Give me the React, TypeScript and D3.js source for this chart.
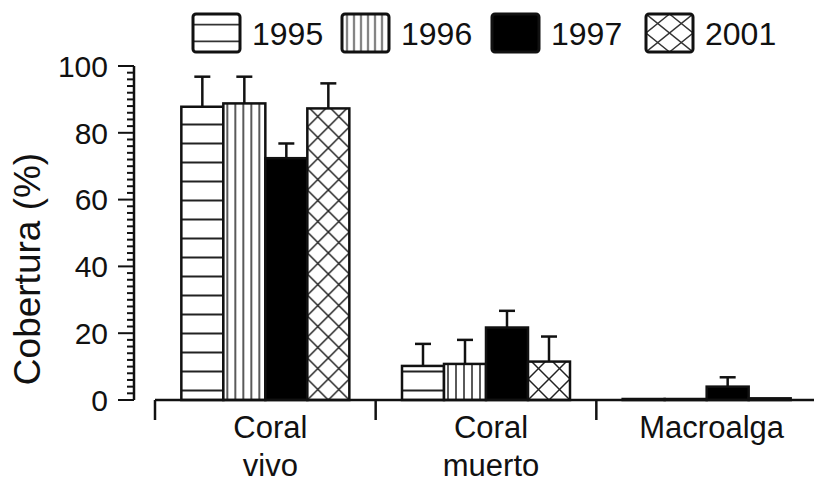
import React from "react";
import * as d3 from "d3";

const categories = ["Coral vivo", "Coral muerto", "Macroalga"];
const categoryLines = [["Coral", "vivo"], ["Coral", "muerto"], ["Macroalga"]];
const years = ["1995", "1996", "1997", "2001"];

const mean1995 = [87.8, 10.2, 0.3];
const mean1996 = [88.8, 10.8, 0.3];
const mean1997 = [72.4, 21.7, 4.0];
const mean2001 = [87.3, 11.5, 0.5];
const err1995 = [9.0, 6.6, 0];
const err1996 = [8.0, 7.2, 0];
const err1997 = [4.4, 5.0, 2.8];
const err2001 = [7.5, 7.5, 0];

const yTicks = [0, 20, 40, 60, 80, 100];
const yTitle = "Cobertura (%)";

const means = [mean1995, mean1996, mean1997, mean2001];
const errs = [err1995, err1996, err1997, err2001];

const W = 814;
const H = 485;
const FONT = "'Liberation Sans', Arial, Helvetica, sans-serif";

export default function App() {
  const y = d3.scaleLinear().domain([0, 100]).range([400, 66]);
  const x0 = d3.scaleBand<string>().domain(categories).range([155, 817]).padding(0);
  const x1 = d3.scaleBand<string>().domain(years).range([-84, 84]).padding(0);
  const minor = d3.range(0, 101, 2);

  const bars: any[] = [];
  categories.forEach((c, ci) => {
    years.forEach((yr, si) => {
      const cx = (x0(c) as number) + x0.bandwidth() / 2;
      const bx = cx + (x1(yr) as number);
      const v = means[si][ci];
      const e = errs[si][ci];
      bars.push({ ci, si, bx, bw: x1.bandwidth(), top: y(v), base: y(0), etop: y(v + e), e });
    });
  });

  const patId = (b: any) => `p-${b.ci}-${b.si}`;

  const patternFor = (id: string, si: number, ox: number, oy: number) => {
    const stroke = "#222";
    if (si === 0) {
      return (
        <pattern key={id} id={id} patternUnits="userSpaceOnUse" x={ox} y={oy} width={40} height={19}>
          <rect width={40} height={19} fill="#fff" />
          <line x1={0} x2={40} y1={9.5} y2={9.5} stroke={stroke} strokeWidth={1.8} />
        </pattern>
      );
    }
    if (si === 1) {
      return (
        <pattern key={id} id={id} patternUnits="userSpaceOnUse" x={ox} y={oy} width={8} height={40}>
          <rect width={8} height={40} fill="#fff" />
          <line x1={4} x2={4} y1={0} y2={40} stroke={stroke} strokeWidth={1.5} />
        </pattern>
      );
    }
    if (si === 2) {
      return (
        <pattern key={id} id={id} patternUnits="userSpaceOnUse" x={ox} y={oy} width={10} height={10}>
          <rect width={10} height={10} fill="#000" />
        </pattern>
      );
    }
    return (
      <pattern key={id} id={id} patternUnits="userSpaceOnUse" x={ox} y={oy} width={21} height={21}>
        <rect width={21} height={21} fill="#fff" />
        <line x1={0} y1={0} x2={21} y2={21} stroke={stroke} strokeWidth={1.5} />
        <line x1={21} y1={0} x2={0} y2={21} stroke={stroke} strokeWidth={1.5} />
      </pattern>
    );
  };

  const legendX = [193, 342, 492, 646];
  const lbw = 47;
  const lbh = 38;
  const lby = 14;

  return (
    <svg width={W} height={H} style={{ display: "block", position: "absolute", left: 0, top: 0 }} fontFamily={FONT}>
      <defs>
        {bars.map((b) => patternFor(patId(b), b.si, b.bx, b.base))}
        <pattern id="lg0" patternUnits="userSpaceOnUse" x={legendX[0]} y={lby} width={lbw} height={lbh}>
          <rect width={lbw} height={lbh} fill="#fff" />
          <line x1={0} x2={lbw} y1={lbh * 0.28} y2={lbh * 0.28} stroke="#333" strokeWidth={1.8} />
          <line x1={0} x2={lbw} y1={lbh * 0.72} y2={lbh * 0.72} stroke="#333" strokeWidth={1.8} />
        </pattern>
        <pattern id="lg1" patternUnits="userSpaceOnUse" x={legendX[1] + 1.5} y={lby} width={7} height={lbh}>
          <rect width={7} height={lbh} fill="#fff" />
          <line x1={3.5} x2={3.5} y1={0} y2={lbh} stroke="#333" strokeWidth={1.4} />
        </pattern>
        <pattern id="lg3" patternUnits="userSpaceOnUse" x={legendX[3]} y={lby} width={lbw} height={lbh}>
          <rect width={lbw} height={lbh} fill="#fff" />
          <line x1={0} y1={0} x2={lbw} y2={lbh} stroke="#333" strokeWidth={1.4} />
          <line x1={lbw} y1={0} x2={0} y2={lbh} stroke="#333" strokeWidth={1.4} />
          <polygon points={`${lbw / 2},0 ${lbw},${lbh / 2} ${lbw / 2},${lbh} 0,${lbh / 2}`} fill="none" stroke="#333" strokeWidth={1.4} />
        </pattern>
      </defs>
      <rect width={W} height={H} fill="#fff" />

      {/* legend */}
      {years.map((yr, i) => (
        <g key={yr}>
          <rect
            x={legendX[i]}
            y={lby}
            width={lbw}
            height={lbh}
            rx={3}
            fill={i === 2 ? "#000" : `url(#lg${i})`}
            stroke="#111"
            strokeWidth={3}
          />
          <text x={legendX[i] + lbw + 12} y={lby + lbh / 2 + 11.5} fontSize={32} fill="#111">
            {yr}
          </text>
        </g>
      ))}

      {/* y axis */}
      <line x1={134} x2={134} y1={y(100)} y2={y(0)} stroke="#111" strokeWidth={2.5} />
      {minor.map((t) => (
        <line key={"m" + t} x1={134 - (t % 20 === 0 ? 16 : 7)} x2={134} y1={y(t)} y2={y(t)} stroke="#111" strokeWidth={2} />
      ))}
      {yTicks.map((t) => (
        <text key={"t" + t} x={108} y={y(t)} dy="0.36em" textAnchor="end" fontSize={30} fill="#111">
          {t}
        </text>
      ))}
      <text
        transform={`translate(40, 269) rotate(-90)`}
        textAnchor="middle"
        fontSize={37}
        fill="#111"
      >
        {yTitle}
      </text>

      {/* bars */}
      {bars.map((b) => (
        <g key={patId(b)}>
          {b.e > 0 && (
            <g stroke="#111" strokeWidth={2.5}>
              <line x1={b.bx + b.bw / 2} x2={b.bx + b.bw / 2} y1={b.top} y2={b.etop} />
              <line x1={b.bx + b.bw / 2 - 8} x2={b.bx + b.bw / 2 + 8} y1={b.etop} y2={b.etop} />
            </g>
          )}
          <rect
            x={b.bx}
            y={b.top}
            width={b.bw}
            height={Math.max(0, b.base - b.top)}
            fill={`url(#${patId(b)})`}
            stroke="#111"
            strokeWidth={2.5}
          />
        </g>
      ))}

      {/* x axis */}
      <line x1={155} x2={W} y1={y(0)} y2={y(0)} stroke="#111" strokeWidth={2.5} />
      {categories.map((c) => (
        <line key={"xt" + c} x1={x0(c) as number} x2={x0(c) as number} y1={y(0)} y2={y(0) + 20} stroke="#111" strokeWidth={2.5} />
      ))}
      {categories.map((c, ci) => (
        <text key={"xl" + c} textAnchor="middle" fontSize={31} fill="#111">
          {categoryLines[ci].map((ln, li) => (
            <tspan key={li} x={(x0(c) as number) + x0.bandwidth() / 2 + 5} y={438 + li * 38}>
              {ln}
            </tspan>
          ))}
        </text>
      ))}
    </svg>
  );
}
